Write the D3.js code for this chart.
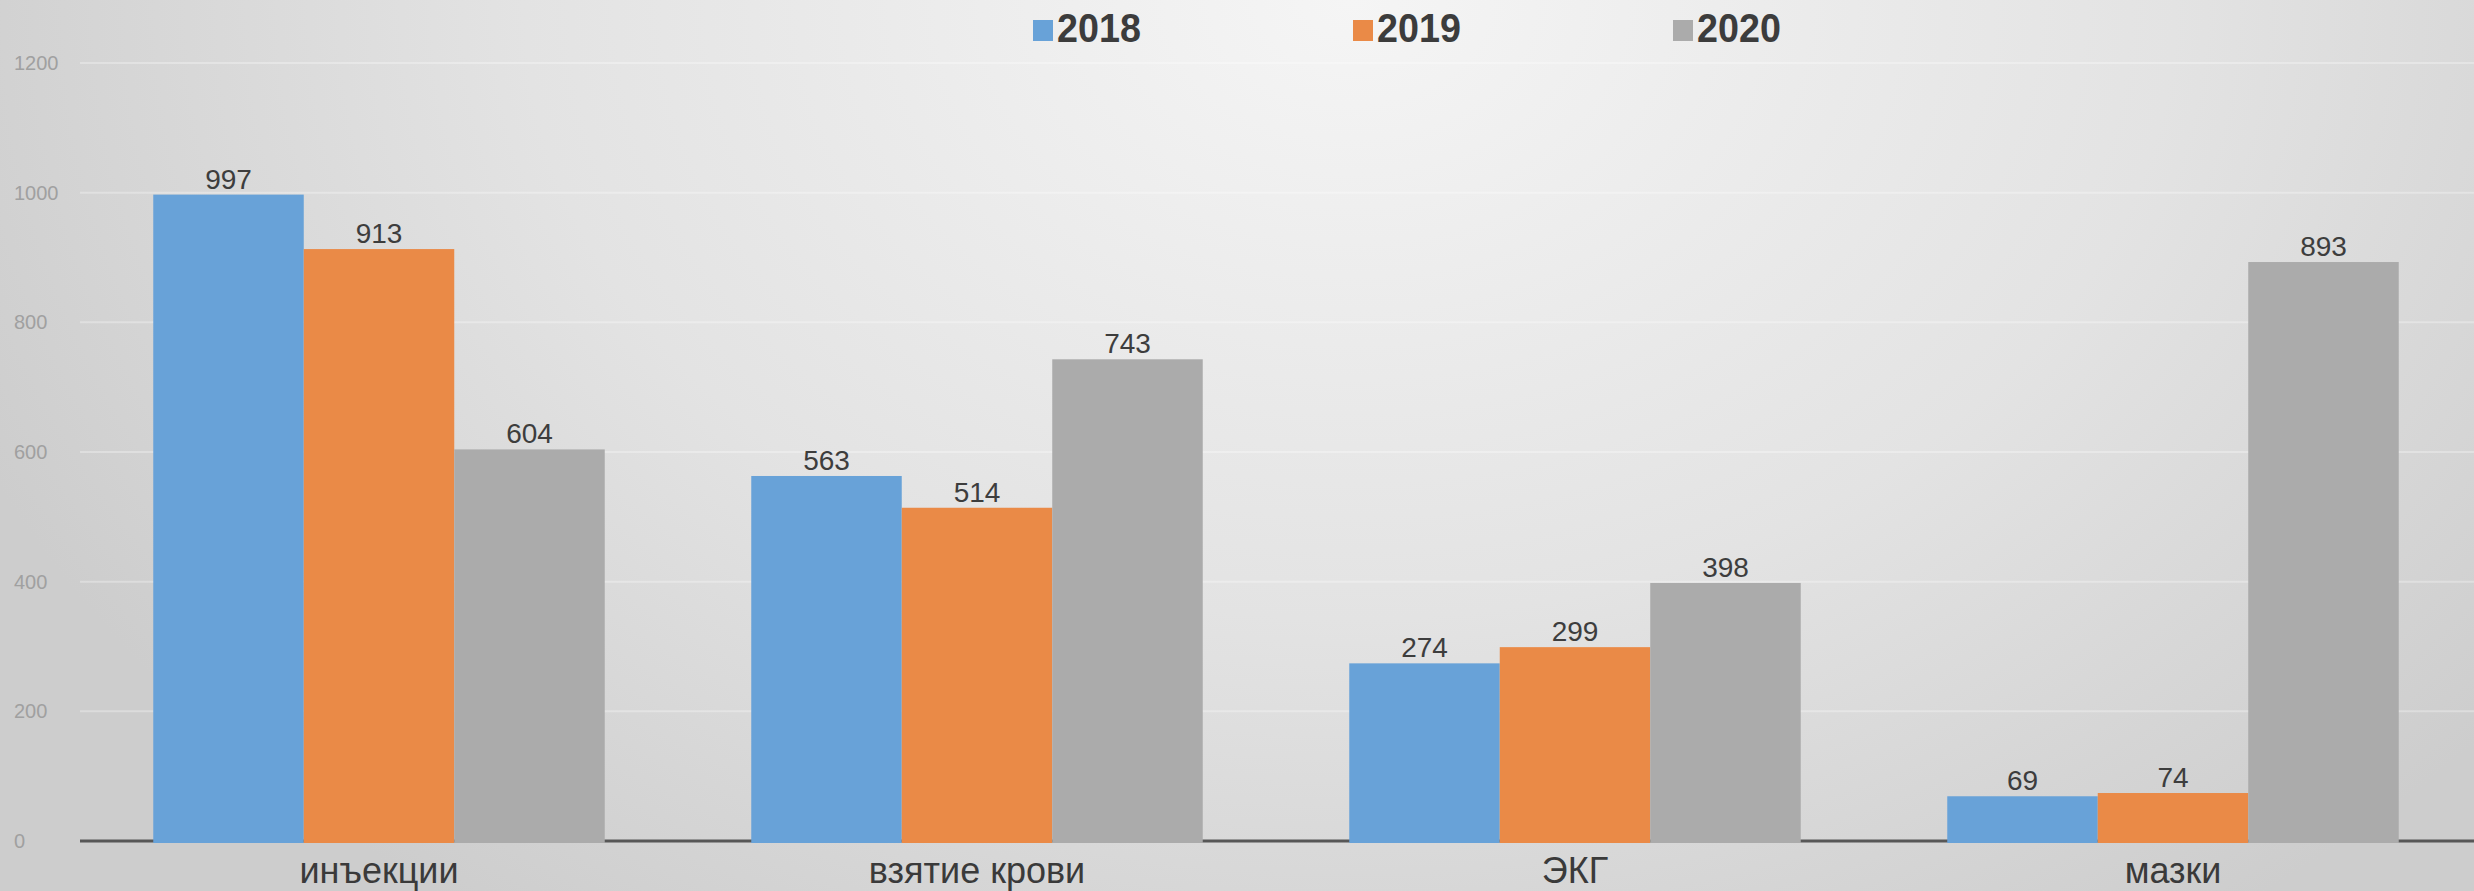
<!DOCTYPE html>
<html>
<head>
<meta charset="utf-8">
<script src="https://cdn.jsdelivr.net/npm/d3@7"></script>
<style>
  html, body { margin: 0; padding: 0; overflow: hidden; }
  svg { display: block; font-family: "Liberation Sans", Arial, sans-serif; }
</style>
</head>
<body>
<svg id="chart" width="2474" height="891"></svg>
<script>
// Procedure counts per year
const categories = ["инъекции", "взятие крови", "ЭКГ", "мазки"];
const years = ["2018", "2019", "2020"];
const values2018 = [997, 563, 274, 69];
const values2019 = [913, 514, 299, 74];
const values2020 = [604, 743, 398, 893];
const yTicks = [0, 200, 400, 600, 800, 1000, 1200];
const seriesColors = ["#68a2d8", "#ea8a47", "#ababab"];

const series = [values2018, values2019, values2020];

const W = 2474, H = 891;

const svg = d3.select("#chart");

// soft grey backdrop, lighter towards the top centre
const defs = svg.append("defs");
const grad = defs.append("radialGradient")
  .attr("id", "bg").attr("gradientUnits", "userSpaceOnUse")
  .attr("cx", 1350).attr("cy", 0).attr("r", 1500)
  .attr("gradientTransform", "translate(1350,0) scale(1,0.75) translate(-1350,0)");
grad.append("stop").attr("offset", "0%").attr("stop-color", "#f5f5f5");
grad.append("stop").attr("offset", "55%").attr("stop-color", "#e3e3e3");
grad.append("stop").attr("offset", "100%").attr("stop-color", "#cdcdcd");
svg.append("rect").attr("width", W).attr("height", H).attr("fill", "url(#bg)");

const y = d3.scaleLinear().domain([0, 1200]).range([841, 63]);
const x0 = d3.scaleBand().domain(categories).range([80, 2472])
  .paddingInner(0.245).paddingOuter(0.1225);
const x1 = d3.scaleBand().domain(years).range([0, x0.bandwidth()]);

// faint horizontal gridlines
svg.append("g").selectAll("line").data(yTicks.filter(d => d > 0)).join("line")
  .attr("x1", 80).attr("x2", W)
  .attr("y1", d => y(d)).attr("y2", d => y(d))
  .attr("stroke", "#ffffff").attr("stroke-opacity", 0.3).attr("stroke-width", 2);

// y tick labels
svg.append("g").selectAll("text").data(yTicks).join("text")
  .attr("x", 14).attr("y", d => y(d) + 7)
  .attr("font-size", 20).attr("fill", "#a0a0a0")
  .text(d => d);

// category axis line
svg.append("line")
  .attr("x1", 80).attr("x2", W).attr("y1", y(0)).attr("y2", y(0))
  .attr("stroke", "#575757").attr("stroke-width", 3);

// bars and value labels
const groups = svg.append("g").selectAll("g").data(categories).join("g")
  .attr("transform", d => `translate(${x0(d)},0)`);

groups.each(function(cat, ci) {
  const g = d3.select(this);
  years.forEach((yr, si) => {
    const v = series[si][ci];
    g.append("rect")
      .attr("x", x1(yr)).attr("width", x1.bandwidth())
      .attr("y", y(v)).attr("height", y(0) - y(v) + 2)
      .attr("fill", seriesColors[si]);
    g.append("text")
      .attr("x", x1(yr) + x1.bandwidth() / 2).attr("y", y(v) - 6)
      .attr("text-anchor", "middle").attr("font-size", 28).attr("fill", "#3d3d3d")
      .text(v);
  });
});

// category labels
svg.append("g").selectAll("text").data(categories).join("text")
  .attr("x", d => x0(d) + x0.bandwidth() / 2).attr("y", 883)
  .attr("text-anchor", "middle").attr("font-size", 36).attr("fill", "#3a3a3a")
  .text(d => d);

// legend
const legend = svg.append("g").selectAll("g").data(years).join("g")
  .attr("transform", (d, i) => `translate(${1033 + i * 320},0)`);
legend.append("rect")
  .attr("x", 0).attr("y", 20).attr("width", 20).attr("height", 21)
  .attr("fill", (d, i) => seriesColors[i]);
legend.append("text")
  .attr("x", 0).attr("y", 0)
  .attr("transform", "translate(24,42) scale(0.92,1)")
  .attr("font-size", 41).attr("font-weight", "bold").attr("fill", "#3c3c3c")
  .text(d => d);
</script>
</body>
</html>
